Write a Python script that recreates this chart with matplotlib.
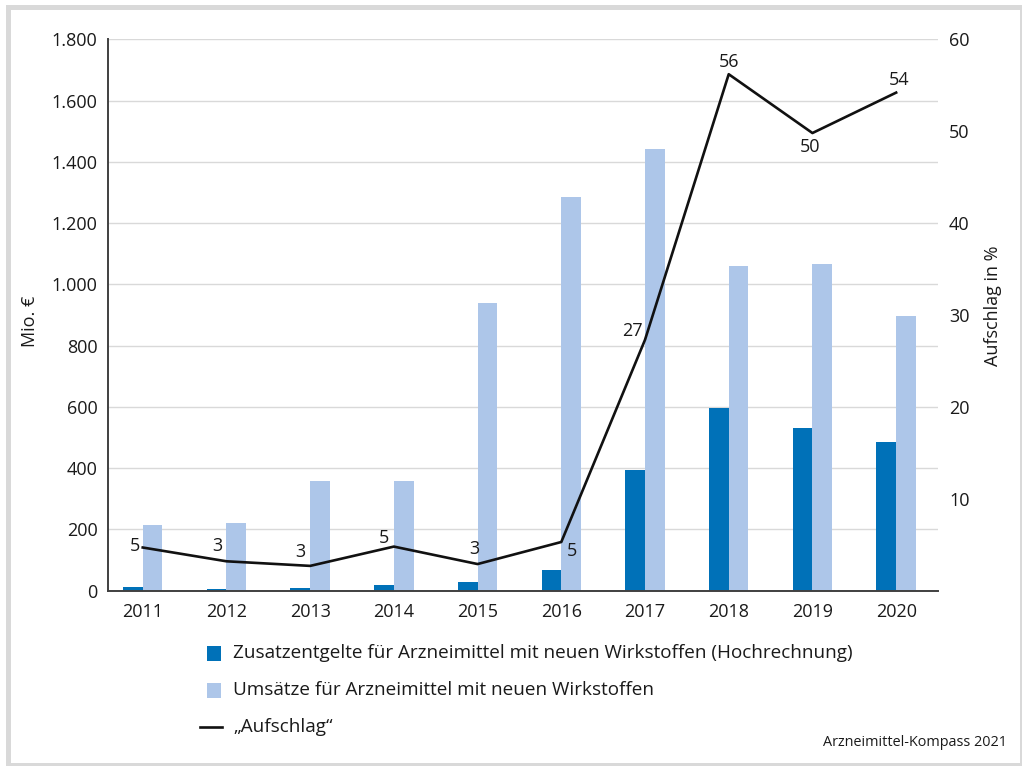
import matplotlib
matplotlib.use("Agg")
import matplotlib.pyplot as plt
from matplotlib.patches import Rectangle
from matplotlib.lines import Line2D
from matplotlib.ticker import FuncFormatter
import numpy as np

# --- data -------------------------------------------------------------
years = ["2011", "2012", "2013", "2014", "2015", "2016", "2017", "2018", "2019", "2020"]
zusatzentgelte = [11, 6, 8, 17, 27, 68, 394, 595, 531, 485]          # Mio. €
umsaetze = [213, 221, 357, 357, 940, 1285, 1442, 1060, 1067, 897]    # Mio. €
aufschlag = [4.7, 3.2, 2.7, 4.8, 2.9, 5.3, 27.3, 56.2, 49.8, 54.2]   # %

legend_labels = [
    "Zusatzentgelte für Arzneimittel mit neuen Wirkstoffen (Hochrechnung)",
    "Umsätze für Arzneimittel mit neuen Wirkstoffen",
    "\u201eAufschlag\u201c",
]
source_text = "Arzneimittel-Kompass 2021"

# --- style ------------------------------------------------------------
DARK = "#0071b8"
LIGHT = "#adc6e9"
GRID = "#d9d9d9"
SPINE = "#404040"
TEXT = "#1a1a1a"
FONT = "Open Sans"
plt.rcParams["font.family"] = [FONT, "DejaVu Sans"]

# label offsets (pixels) for the percentage labels on the line
label_offsets = [(-8, 2), (-9, 15), (-9.5, 14), (-9.5, 9), (-3.5, 15),
                 (10.5, -9), (-13, 8.5), (0, 12), (-2, -14), (3, 13)]

W, H = 1022, 766
fig = plt.figure(figsize=(W / 100, H / 100), dpi=100)


def fx(px):
    return px / W


def fy(py):
    return 1 - py / H


ax = fig.add_axes([fx(108), fy(590.7), (938 - 108) / W, 551.4 / H])

x = np.arange(len(years))
bw = 0.235
ax.bar(x - bw / 2, zusatzentgelte, bw, color=DARK, zorder=2)
ax.bar(x + bw / 2, umsaetze, bw, color=LIGHT, zorder=2)

ax.set_xlim(-0.415, 9.5)
ax.set_ylim(0, 1800)
ax.set_yticks(np.arange(0, 1801, 200))
ax.yaxis.set_major_formatter(FuncFormatter(lambda v, p: f"{v:,.0f}".replace(",", ".")))
ax.set_xticks(x)
ax.set_xticklabels(years)
ax.grid(axis="y", color=GRID, linewidth=1.0)
ax.set_axisbelow(True)
for s in ("top", "right"):
    ax.spines[s].set_visible(False)
for s in ("left", "bottom"):
    ax.spines[s].set_color(SPINE)
    ax.spines[s].set_linewidth(1.4)
ax.tick_params(axis="y", length=0, pad=7.5, labelsize=13, labelcolor=TEXT)
ax.tick_params(axis="x", length=0, pad=8.5, labelsize=13, labelcolor=TEXT)

# secondary axis for the markup in percent
ax2 = ax.twinx()
ax2.set_ylim(0, 60)
ax2.set_yticks(np.arange(10, 61, 10))
for s in ax2.spines.values():
    s.set_visible(False)
ax2.tick_params(axis="y", length=0, pad=8, labelsize=13, labelcolor=TEXT)
ax2.plot(x, aufschlag, color="#111111", linewidth=1.9, zorder=3)
for xi, v, (dx, dy) in zip(x, aufschlag, label_offsets):
    ax2.annotate(f"{v:.0f}", (xi, v), xytext=(dx, dy), textcoords="offset pixels",
                 ha="center", va="center", fontsize=13, color=TEXT)

# axis titles
fig.text(fx(30), fy(321), "Mio. €", rotation=90, ha="center", va="center",
         fontsize=13, color=TEXT)
fig.text(fx(993), fy(306), "Aufschlag in %", rotation=90, ha="center", va="center",
         fontsize=13, color=TEXT)

# legend below the plot
rows_y = [653, 690, 727]
fig.add_artist(Rectangle((fx(207), fy(661)), 14 / W, 15 / H, transform=fig.transFigure,
                         facecolor=DARK, edgecolor="none"))
fig.add_artist(Rectangle((fx(207), fy(698)), 14 / W, 15 / H, transform=fig.transFigure,
                         facecolor=LIGHT, edgecolor="none"))
fig.add_artist(Line2D([fx(200), fx(222)], [fy(727), fy(727)], transform=fig.transFigure,
                      color="#111111", linewidth=1.9))
for yy, lab in zip(rows_y, legend_labels):
    fig.text(fx(233), fy(yy), lab, ha="left", va="center", fontsize=13.6, color=TEXT)

fig.text(fx(1007), fy(742), source_text, ha="right", va="center", fontsize=10.4, color=TEXT)

# grey frame around the figure
fig.add_artist(Rectangle((fx(7.5), fy(764.5)), (1021.5 - 7.5) / W, (764.5 - 6.5) / H,
                         transform=fig.transFigure, fill=False, edgecolor=GRID,
                         linewidth=5 * 72 / 100))

fig.savefig("out.png", dpi=100)
